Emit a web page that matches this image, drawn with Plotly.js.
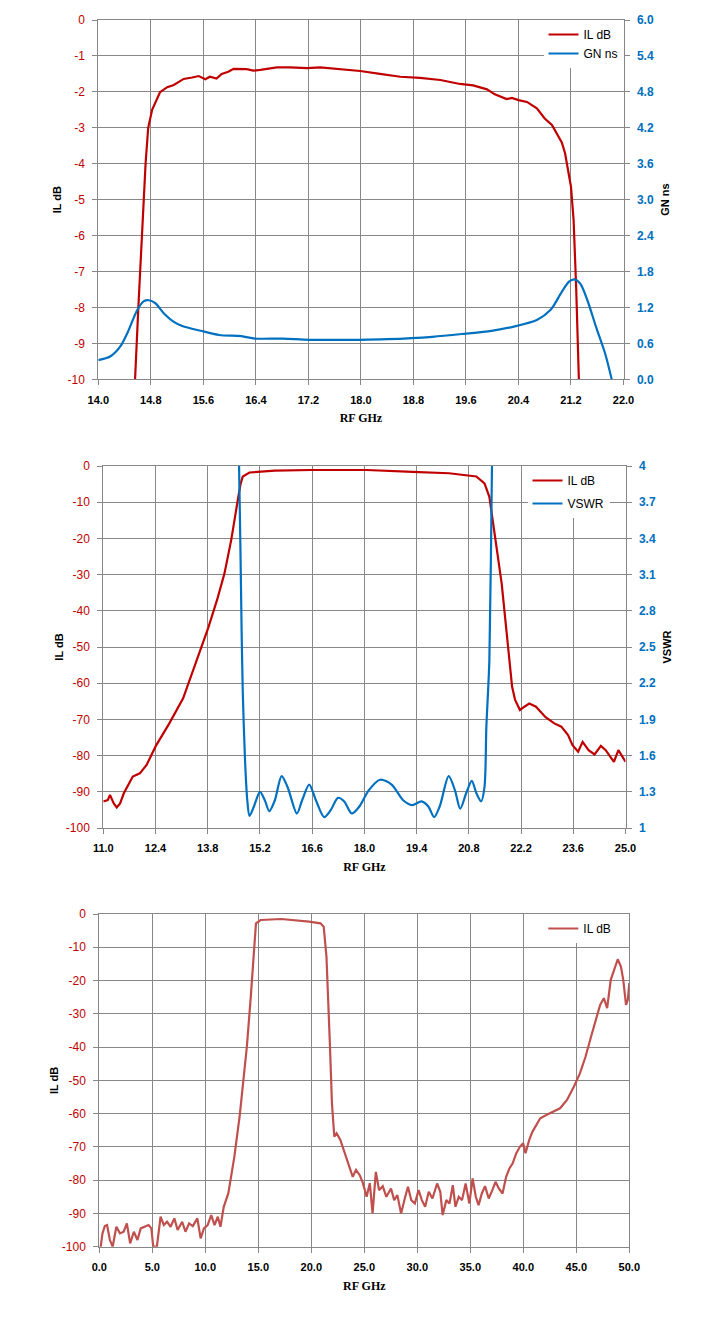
<!DOCTYPE html>
<html>
<head>
<meta charset="utf-8">
<script src="https://cdn.plot.ly/plotly-3.0.1.min.js"></script>
<style>
html,body{margin:0;padding:0;background:#fff}
#chart{width:718px;height:1332px}
</style>
</head>
<body>
<div id="chart"></div>
<script>
// top chart: insertion loss and group delay, 14-22 GHz
let il1F=[14.54,14.56,14.61,14.66,14.69,14.72,14.76,14.82,14.94,15.05,
15.15,15.30,15.43,15.53,15.63,15.70,15.80,15.88,15.98,16.06,
16.26,16.36,16.47,16.57,16.72,16.92,17.18,17.38,17.58,17.79,
17.99,18.29,18.60,18.90,19.21,19.51,19.71,19.92,20.04,20.22,
20.30,20.40,20.53,20.68,20.80,20.91,20.98,21.06,21.11,21.16,
21.20,21.24,21.28,21.32,21.33]
let il1Y=[-10.6,-10,-8,-6,-5,-4,-3,-2.5,-2.01,-1.87,
-1.81,-1.64,-1.6,-1.56,-1.65,-1.58,-1.63,-1.5,-1.44,-1.36,
-1.37,-1.41,-1.39,-1.36,-1.32,-1.32,-1.34,-1.32,-1.35,-1.37,
-1.42,-1.5,-1.58,-1.61,-1.67,-1.78,-1.82,-1.93,-2.07,-2.2,
-2.17,-2.23,-2.28,-2.46,-2.74,-2.92,-3.15,-3.41,-3.71,-4.17,
-4.64,-5.57,-7.5,-10,-10.6]

let gnF=[14.0,14.18,14.33,14.45,14.59,14.69,14.77,14.87,15.0,15.15,
15.28,15.56,15.84,16.18,16.39,16.81,17.22,17.98,18.40,19.09,
19.57,19.99,20.33,20.68,20.89,21.06,21.17,21.25,21.34,21.45,
21.58,21.72,21.82,21.84]
let gnV=[0.32,0.38,0.54,0.79,1.15,1.30,1.32,1.27,1.10,0.96,
0.89,0.81,0.74,0.72,0.68,0.68,0.66,0.66,0.67,0.71,
0.76,0.81,0.88,0.99,1.16,1.46,1.63,1.67,1.60,1.32,
0.88,0.43,0,-0.1]

// middle chart: insertion loss and VSWR, 11-25 GHz
let il2F=[11.0,11.12,11.18,11.28,11.36,11.45,11.55,11.79,11.98,12.16,
12.41,12.77,13.14,13.33,13.55,13.82,14.05,14.25,14.43,14.55,
14.62,14.68,14.74,14.92,15.6,16.58,18.06,19.29,20.27,21.0,
21.22,21.35,21.49,21.68,21.86,21.96,22.04,22.17,22.29,22.42,
22.60,22.85,23.09,23.28,23.46,23.58,23.73,23.85,24.01,24.17,
24.34,24.47,24.59,24.69,24.81,24.91,25.0]
let il2Y=[-92.7,-92.3,-90.9,-93.2,-94.3,-93.2,-90.4,-85.8,-84.9,-82.6,
-77.3,-71.1,-64.2,-58.8,-52,-44.5,-37,-29.6,-20.4,-12,
-8.5,-5,-2.9,-1.8,-1.3,-1.1,-1.1,-1.6,-2.0,-2.9,
-4.8,-8.5,-18.6,-32.4,-50.8,-61,-64.6,-67.4,-66.5,-65.6,
-66.5,-69.3,-71.1,-72.0,-74.3,-77.1,-78.9,-76.2,-78.5,-79.7,
-77.3,-78.5,-80.3,-81.7,-78.5,-80.1,-81.7]

let vsF=[14.58,14.64,14.71,14.74,14.80,14.86,14.92,15.04,15.2,15.33,
15.45,15.60,15.78,15.94,16.19,16.33,16.52,16.70,16.92,17.10,
17.29,17.46,17.66,17.87,18.11,18.42,18.73,19.04,19.28,19.53,
19.71,19.87,20.02,20.26,20.43,20.57,20.73,20.88,21.0,21.13,
21.22,21.27,21.35,21.42,21.46]
let vsV=[4.6,4.0,2.6,2.12,1.56,1.23,1.10,1.18,1.30,1.23,
1.14,1.23,1.43,1.34,1.12,1.23,1.36,1.23,1.09,1.15,
1.25,1.22,1.12,1.18,1.31,1.40,1.36,1.23,1.19,1.22,
1.18,1.09,1.18,1.43,1.31,1.16,1.29,1.39,1.29,1.22,
1.34,1.84,2.39,4.0,4.6]

// bottom chart: wideband insertion loss, 0-50 GHz
let il3F=[0,0.13,0.30,0.52,0.73,1.0,1.26,1.61,1.95,2.30,
2.60,2.91,3.26,3.60,3.91,4.35,4.65,4.91,5.09,5.43,
5.78,6.09,6.39,6.73,7.08,7.39,7.82,8.13,8.47,8.82,
9.25,9.56,9.87,10.22,10.56,10.87,11.18,11.43,11.74,12.17,
12.74,13.25,13.92,14.27,14.57,14.78,15.22,17.17,19.78,20.87,
21.17,21.43,21.74,21.95,22.17,22.39,22.74,23.17,23.60,23.91,
24.22,24.57,24.87,25.22,25.52,25.78,26.09,26.39,26.74,27.08,
27.52,27.82,28.12,28.47,28.82,29.12,29.43,29.77,30.12,30.43,
30.74,31.08,31.43,31.87,32.17,32.39,32.74,33.04,33.35,33.60,
33.91,34.22,34.56,34.91,35.22,35.52,35.78,36.09,36.39,36.74,
37.08,37.38,37.69,38.04,38.38,38.69,38.99,39.34,39.69,39.99,
40.21,40.56,40.87,41.17,41.60,42.17,42.82,43.47,44.12,44.77,
45.34,45.87,46.39,46.95,47.25,47.60,47.91,48.25,48.56,48.91,
49.21,49.43,49.69,49.86,50.0]
let il3Y=[-100,-100,-96,-93.8,-93.5,-98,-100,-94,-96,-95.5,
-93,-99,-95.5,-98,-94.5,-94,-93.5,-94.5,-100,-100,
-91,-93.5,-92.5,-94,-91.5,-95,-92.5,-95.5,-93,-93.8,
-91.5,-97.5,-94.5,-93.5,-90.5,-93.5,-91,-94,-88,-84,
-73,-60.5,-39.9,-25.8,-12.8,-2.8,-1.8,-1.5,-2.3,-2.8,
-3.8,-12.8,-37.9,-57,-66.9,-65.9,-67.9,-71.9,-75.9,-79,
-76.9,-78.5,-80.9,-85,-80.9,-90,-77.5,-83,-81.8,-85,
-82.5,-86,-84.5,-90,-85.5,-82,-86,-87,-83,-86,
-88,-83.5,-85.5,-81,-83.5,-90.5,-86,-87,-81.5,-88,
-85,-86,-81,-87,-79.5,-85,-87.5,-84,-81.8,-85.5,
-83,-80.5,-82.5,-84,-79,-76.5,-75,-71.9,-69.9,-68.9,
-71.9,-67.9,-65.4,-63.9,-61.4,-60.4,-59.4,-58.4,-55.9,-51.9,
-47.9,-42.9,-36.9,-30.9,-27.3,-25.3,-28.3,-19.8,-16.8,-13.6,
-15.8,-19.8,-27.3,-25.8,-20.8]

const W=718,H=1332
const RED="#C00000",BLUE="#0070C0",RED3="#C0504D",GRID="#878787"

function px(a,b){return [a/W,b/W]}
function py(top,bot){return [1-bot/H,1-top/H]}

// ticks with a plain hyphen as minus sign, like the original
function hyTicks(lo,hi,step){
let vals=[],txt=[]
let n=Math.round((hi-lo)/step)
for(let i=0;i<=n;i++){
let v=lo+i*step
vals.push(v)
txt.push(String(v))
}
return {tickmode:"array",tickvals:vals,ticktext:txt}
}

let tickX={family:"Liberation Sans",size:11,color:"#000",weight:"bold"}
let tickL={family:"Liberation Sans",size:12,color:RED}
let tickR={family:"Liberation Sans",size:12,color:BLUE,weight:"bold"}
let titleY={family:"Liberation Sans",size:11,color:"#000",weight:"bold"}
let titleX={family:"Liberation Serif",size:12,color:"#000",weight:"bold"}

function xAx(dom,anchor,r,t0,dt){
return {domain:dom,anchor:anchor,range:r,tick0:t0,dtick:dt,tickformat:".1f",
showgrid:true,gridcolor:GRID,gridwidth:1,showline:true,linecolor:GRID,mirror:true,
ticks:"outside",ticklen:5,tickcolor:GRID,ticklabelstandoff:5,tickfont:tickX,zeroline:false,
title:{text:"RF GHz",font:titleX,standoff:9}}
}
function yL(dom,anchor,r,dt,stand){
return Object.assign({domain:dom,anchor:anchor,range:r,
showgrid:true,gridcolor:GRID,gridwidth:1,showline:true,linecolor:GRID,
ticks:"outside",ticklen:5,tickcolor:GRID,ticklabelstandoff:5,tickfont:tickL,zeroline:false,
title:{text:"IL dB",font:titleY,standoff:stand}},hyTicks(r[0],r[1],dt))
}
function yR(over,anchor,r,t0,dt,fmt,name){
return {overlaying:over,anchor:anchor,side:"right",range:r,tick0:t0,dtick:dt,tickformat:fmt,
showgrid:false,showline:true,linecolor:GRID,
ticks:"outside",ticklen:5,tickcolor:GRID,ticklabelstandoff:5,tickfont:tickR,zeroline:false,
title:{text:name,font:titleY,standoff:8}}
}

let ln=(c)=>({color:c,width:2.2})

let traces=[
{x:il1F,y:il1Y,name:"IL dB",type:"scatter",mode:"lines",line:ln(RED),xaxis:"x",yaxis:"y",legend:"legend"},
{x:gnF,y:gnV,name:"GN ns",type:"scatter",mode:"lines",line:Object.assign(ln(BLUE),{shape:"spline",smoothing:0.8}),xaxis:"x",yaxis:"y2",legend:"legend"},
{x:il2F,y:il2Y,name:"IL dB",type:"scatter",mode:"lines",line:ln(RED),xaxis:"x2",yaxis:"y3",legend:"legend2",legendgroup:"a"},
{x:vsF,y:vsV,name:"VSWR",type:"scatter",mode:"lines",line:Object.assign(ln(BLUE),{shape:"spline",smoothing:0.8}),xaxis:"x2",yaxis:"y4",legend:"legend2",legendgroup:"b"},
{x:il3F,y:il3Y,name:"IL dB",type:"scatter",mode:"lines",line:ln(RED3),xaxis:"x3",yaxis:"y5",legend:"legend3"}
]

let d1x=px(98.3,623.5),d1y=py(20,379.3)
let d2x=px(103.3,625.5),d2y=py(466,828)
let d3x=px(99.3,629.3),d3y=py(914,1246.7)

let legFont={family:"Liberation Sans",size:12,color:"#000"}

let layout={
width:W,height:H,
margin:{l:0,r:0,t:0,b:0},
paper_bgcolor:"#fff",plot_bgcolor:"#fff",
showlegend:true,

xaxis:xAx(d1x,"y",[14,22],14,0.8),
yaxis:yL(d1y,"x",[-10,0],1,3),
yaxis2:yR("y","x",[0,6],0,0.6,".1f","GN ns"),

xaxis2:xAx(d2x,"y3",[11,25],11,1.4),
yaxis3:yL(d2y,"x2",[-100,0],10,0),
yaxis4:yR("y3","x2",[1,4],1,0.3,"","VSWR"),

xaxis3:xAx(d3x,"y5",[0,50],0,5),
yaxis5:Object.assign(yL(d3y,"x3",[-100,0],10,1),{mirror:true}),

legend:{x:d1x[1],xanchor:"right",y:d1y[1],yanchor:"top",bgcolor:"#fff",font:legFont,
tracegroupgap:0,itemwidth:30},
legend2:{x:d2x[1]-16/W,xanchor:"right",y:d2y[1],yanchor:"top",bgcolor:"#fff",font:legFont,
traceorder:"grouped",tracegroupgap:4,itemwidth:30},
legend3:{x:d3x[1]-13/W,xanchor:"right",y:d3y[1],yanchor:"top",bgcolor:"#fff",font:legFont,itemwidth:30}
}

Plotly.newPlot("chart",traces,layout,{displayModeBar:false,staticPlot:true})
</script>
</body>
</html>
